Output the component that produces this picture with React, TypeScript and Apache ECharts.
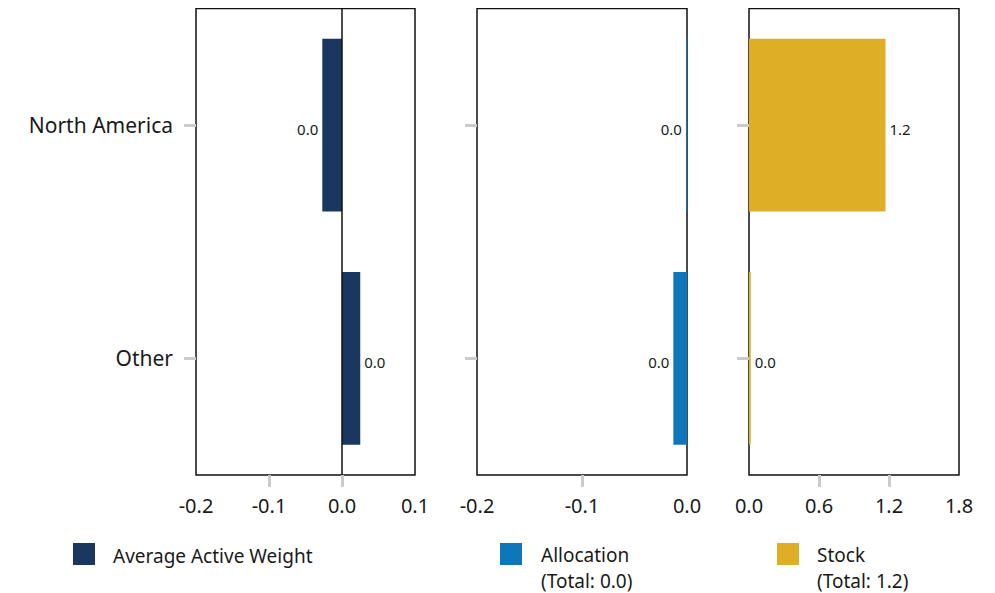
import React, { useEffect, useRef } from "react";
import * as echarts from "echarts";

const categories = ["North America", "Other"];
const activeWeight = [-0.027, 0.025];
const allocation = [-0.001, -0.013];
const stock = [1.17, 0.015];
const allocationTotal = "0.0";
const stockTotal = "1.2";
const seriesNames = ["Average Active Weight", "Allocation", "Stock"];
const colors = ["#19375f", "#0e77ba", "#deae27"];
const xRanges = [
  { min: -0.2, max: 0.1, interval: 0.1, ticks: [-0.1, 0] },
  { min: -0.2, max: 0, interval: 0.1, ticks: [-0.1] },
  { min: 0, max: 1.8, interval: 0.6, ticks: [0.6, 1.2] },
];

const FONT = "Noto Sans";
const TEXT = "#1a1a1a";

const fmt = (v: number) => {
  const s = v.toFixed(1);
  return s === "-0.0" ? "0.0" : s;
};

export default function App() {
  const ref = useRef<HTMLDivElement>(null);
  useEffect(() => {
    if (!ref.current) return;
    const chart = echarts.init(ref.current, null, { renderer: "svg" });
    const grids = [
      { left: 188, top: 0.5, width: 219, height: 466.5 },
      { left: 469, top: 0.5, width: 210, height: 466.5 },
      { left: 741, top: 0.5, width: 210, height: 466.5 },
    ].map((g) => ({ ...g, show: true, borderColor: "#111", borderWidth: 1.5, backgroundColor: "transparent" }));
    const datas = [activeWeight, allocation, stock];
    const legendText = (x: number, y: number, text: string) => ({
      type: "text",
      x,
      y,
      style: { text, fontSize: 19, lineHeight: 20, fill: TEXT, fontFamily: FONT, align: "left", verticalAlign: "middle" },
    });
    const option: any = {
      animation: false,
      textStyle: { fontFamily: FONT },
      grid: grids,
      xAxis: xRanges.map((r, i) => ({
        type: "value",
        gridIndex: i,
        min: r.min,
        max: r.max,
        interval: r.interval,
        axisLine: { show: false },
        splitLine: { show: false },
        axisTick: { show: true, customValues: r.ticks, length: 12, lineStyle: { color: "#c9cbce", width: 3 } },
        axisLabel: { fontSize: 20, color: TEXT, margin: 20, fontFamily: FONT, formatter: (v: number) => fmt(v) },
      })),
      yAxis: [0, 1, 2].map((i) => ({
        type: "category",
        gridIndex: i,
        data: categories,
        inverse: true,
        axisLine: { show: false, onZero: false },
        axisTick: { show: true, alignWithLabel: true, length: 12, lineStyle: { color: "#c9cbce", width: 3 } },
        axisLabel: { show: i === 0, fontSize: 21, color: TEXT, margin: 23, fontFamily: FONT },
        splitLine: { show: false },
      })),
      series: datas.map((d, i) => ({
        type: "bar",
        name: seriesNames[i],
        xAxisIndex: i,
        yAxisIndex: i,
        barCategoryGap: "26%",
        itemStyle: { color: colors[i] },
        data: d.map((v) => ({
          value: v,
          label: {
            show: true,
            position: v < 0 ? "left" : "right",
            distance: 4,
            offset: [0, 4],
            fontSize: 15,
            color: TEXT,
            fontFamily: FONT,
            formatter: (p: any) => fmt(p.value),
          },
        })),
        markLine:
          i === 0
            ? {
                silent: true,
                symbol: "none",
                label: { show: false },
                lineStyle: { color: "#111", width: 1.5, type: "solid" },
                data: [{ xAxis: 0 }],
              }
            : undefined,
      })),
      graphic: [
        { type: "rect", left: 65, top: 535, shape: { width: 22, height: 22 }, style: { fill: colors[0] } },
        legendText(105, 548, seriesNames[0]),
        { type: "rect", left: 492, top: 535, shape: { width: 22, height: 22 }, style: { fill: colors[1] } },
        legendText(533, 547, seriesNames[1]),
        legendText(533, 573, "(Total: " + allocationTotal + ")"),
        { type: "rect", left: 769, top: 535, shape: { width: 22, height: 22 }, style: { fill: colors[2] } },
        legendText(809, 547, seriesNames[2]),
        legendText(809, 573, "(Total: " + stockTotal + ")"),
      ],
    };
    chart.setOption(option);
    return () => chart.dispose();
  }, []);
  return <div ref={ref} style={{ width: 987, height: 585 }} />;
}
